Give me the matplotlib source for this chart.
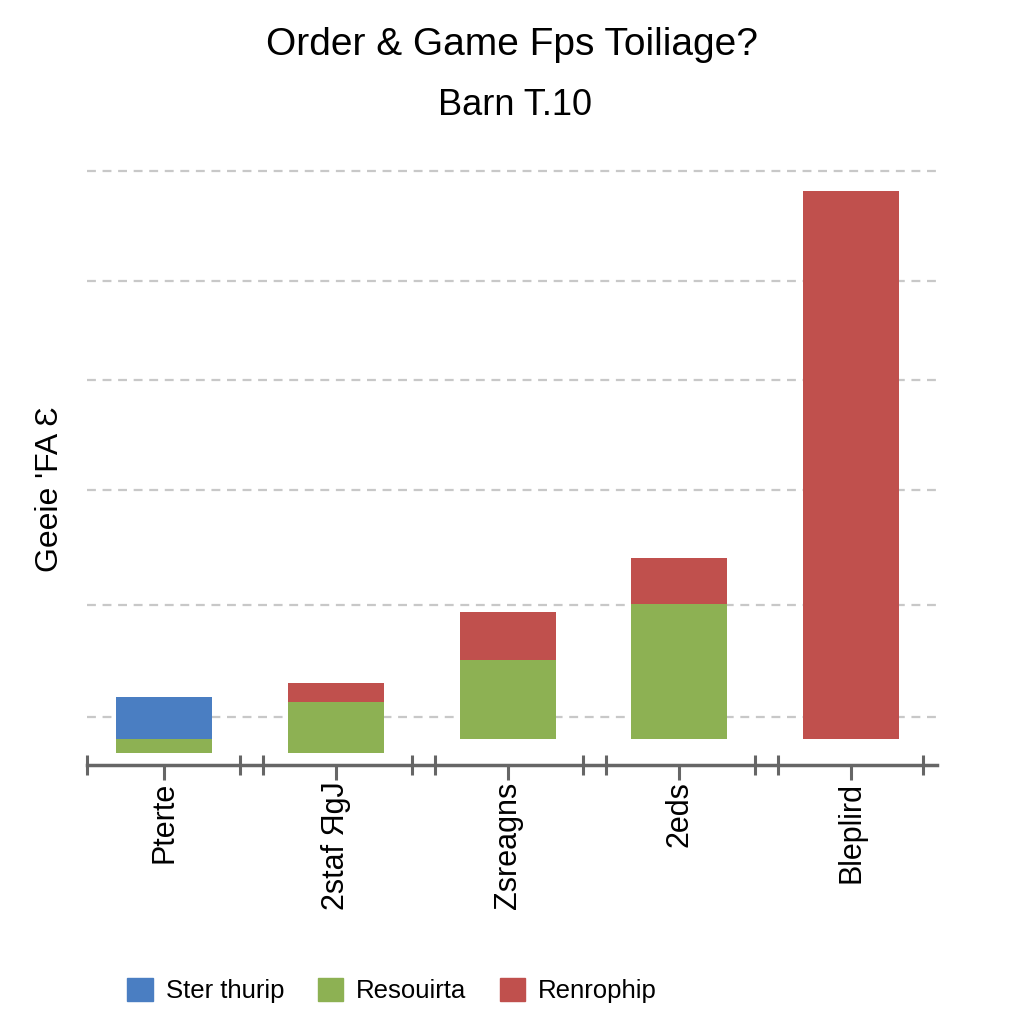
import matplotlib.pyplot as plt
import numpy as np

# chart data
categories = ["Pterte", "2staf ЯgJ", "Zsreagns", "2eds", "Bleplird"]
series_names = ["Ster thurip", "Resouirta", "Renrophip"]
base = [-1.4, -1.4, 0.0, 0.0, 0.0]
blue_values = [4.2, 0.0, 0.0, 0.0, 0.0]
green_values = [1.4, 5.1, 7.9, 13.5, 0.0]
red_values = [0.0, 1.9, 4.8, 4.6, 54.8]
grid_values = [2.2, 13.4, 24.9, 35.9, 45.8, 56.8]

title = "Order & Game Fps Toiliage?"
subtitle = "Barn T.10"
y_label = "Geeie 'FA Ɛ"

plt.rcParams["font.family"] = ["Liberation Sans", "DejaVu Sans"]

colours = {"blue": "#4a7ec2", "green": "#8db153", "red": "#c0504d"}

figure = plt.figure(figsize=(10.24, 10.24), dpi=100)
axes = figure.add_axes([0.085, 0.253, 0.830, 0.591])

x = np.arange(len(categories))
width = 0.56
base = np.array(base)
green = np.array(green_values)
blue = np.array(blue_values)
red = np.array(red_values)

axes.bar(x, green, width, bottom=base, color=colours["green"], zorder=3)
axes.bar(x, blue, width, bottom=base + green, color=colours["blue"], zorder=3)
axes.bar(x, red, width, bottom=base + green + blue, color=colours["red"], zorder=3)

axes.set_xlim(-0.45, 4.5)
axes.set_ylim(-2.6, 57.9)

# grid lines only, no y tick marks or labels
axes.set_yticks(grid_values)
axes.tick_params(axis="y", length=0, labelleft=False)
axes.yaxis.grid(True, linestyle=(0, (4, 3)), color="#c8c8c8", linewidth=1.6, zorder=0)

axes.set_xticks(x)
axes.set_xticklabels(categories, rotation=90, fontsize=22, va="top")
axes.tick_params(axis="x", direction="out", length=11, width=2.2,
                 color="#666666", pad=1)
minor = [-0.45] + [v for i in range(4) for v in (i + 0.44, i + 0.575)] + [4.42]
axes.set_xticks(minor, minor=True)
axes.tick_params(axis="x", which="minor", direction="inout", length=14,
                 width=2.2, color="#666666")

for side in ("left", "top", "right"):
    axes.spines[side].set_visible(False)
axes.spines["bottom"].set_color("#666666")
axes.spines["bottom"].set_linewidth(2.5)

axes.set_ylabel(y_label, fontsize=23)
axes.yaxis.set_label_coords(-0.026, 0.455)

figure.text(0.5, 0.956, title, ha="center", va="center", fontsize=28)
figure.text(0.503, 0.897, subtitle, ha="center", va="center", fontsize=26)

handles = [
    plt.Rectangle((0, 0), 1, 1, color=colours["blue"]),
    plt.Rectangle((0, 0), 1, 1, color=colours["green"]),
    plt.Rectangle((0, 0), 1, 1, color=colours["red"]),
]
figure.legend(handles, series_names, loc="center", bbox_to_anchor=(0.383, 0.033),
              ncol=3, frameon=False, fontsize=18.5, handlelength=1.0,
              handleheight=1.0, handletextpad=0.5, columnspacing=1.3)

figure.savefig("out.png", dpi=100)
